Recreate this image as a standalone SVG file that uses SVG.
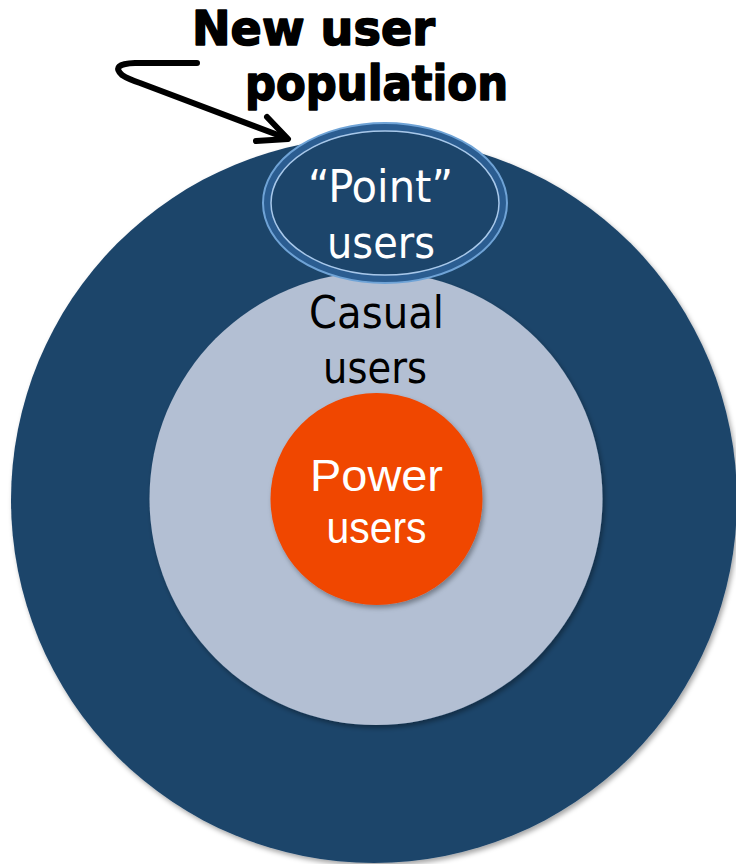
<svg xmlns="http://www.w3.org/2000/svg" width="736" height="864" viewBox="0 0 736 864">
  <defs>
    <filter id="shadow" x="-10%" y="-10%" width="120%" height="120%">
      <feDropShadow dx="2" dy="3" stdDeviation="2.5" flood-color="#000" flood-opacity="0.35"/>
    </filter>
  </defs>
  <style>
    .tah { font-family: "DejaVu Sans Condensed", "DejaVu Sans", sans-serif; font-size: 44px; text-anchor: middle; }
    .ari { font-family: "Liberation Sans", Arial, sans-serif; font-size: 45px; text-anchor: middle; fill: #fff; }
    .title { font-family: "DejaVu Sans", sans-serif; font-weight: bold; font-size: 48px; fill: #000; stroke: #000; stroke-width: 1.6px; stroke-linejoin: round; }
    .conn { fill: none; stroke: #000; stroke-width: 6; stroke-linecap: round; stroke-linejoin: round; }
  </style>

  <g id="new-user-population">
    <circle cx="374" cy="500" r="363" fill="#1c456b" filter="url(#shadow)"/>
  </g>

  <g id="casual-users">
    <circle cx="376" cy="498.5" r="226.5" fill="#b3bfd3" filter="url(#shadow)"/>
    <text class="tah" x="376.5" y="328" fill="#000" textLength="135" lengthAdjust="spacingAndGlyphs">Casual</text>
    <text class="tah" x="375" y="383" fill="#000" textLength="104" lengthAdjust="spacingAndGlyphs">users</text>
  </g>

  <g id="power-users">
    <circle cx="376.5" cy="499" r="106" fill="#f04600" filter="url(#shadow)"/>
    <text class="ari" x="376.5" y="491" textLength="133" lengthAdjust="spacingAndGlyphs">Power</text>
    <text class="ari" x="376.5" y="543" textLength="100" lengthAdjust="spacingAndGlyphs">users</text>
  </g>

  <g id="point-users">
    <ellipse cx="385" cy="203" rx="118" ry="76" fill="#1c456b" stroke="#2b5d91" stroke-width="8"/>
    <ellipse cx="385" cy="203" rx="122" ry="80" fill="none" stroke="#6fa3d6" stroke-width="2"/>
    <ellipse cx="385" cy="203" rx="114" ry="72" fill="none" stroke="#a8c8ea" stroke-width="1.5"/>
    <text class="tah" x="380.5" y="202" fill="#fff" textLength="145" lengthAdjust="spacingAndGlyphs">“Point”</text>
    <text class="tah" x="381" y="258" fill="#fff" textLength="108" lengthAdjust="spacingAndGlyphs">users</text>
  </g>

  <g id="title">
    <text class="title" x="192" y="45" textLength="243" lengthAdjust="spacingAndGlyphs">New user</text>
    <text class="title" x="245" y="100" textLength="263" lengthAdjust="spacingAndGlyphs">population</text>
  </g>

  <g id="connectors">
    <path class="conn" d="M197,63 L135,63 Q110,64 122,75 Q128,79 140,83 L286,138"/>
    <path class="conn" d="M267,117 L288,139 L256,141"/>
  </g>
</svg>
